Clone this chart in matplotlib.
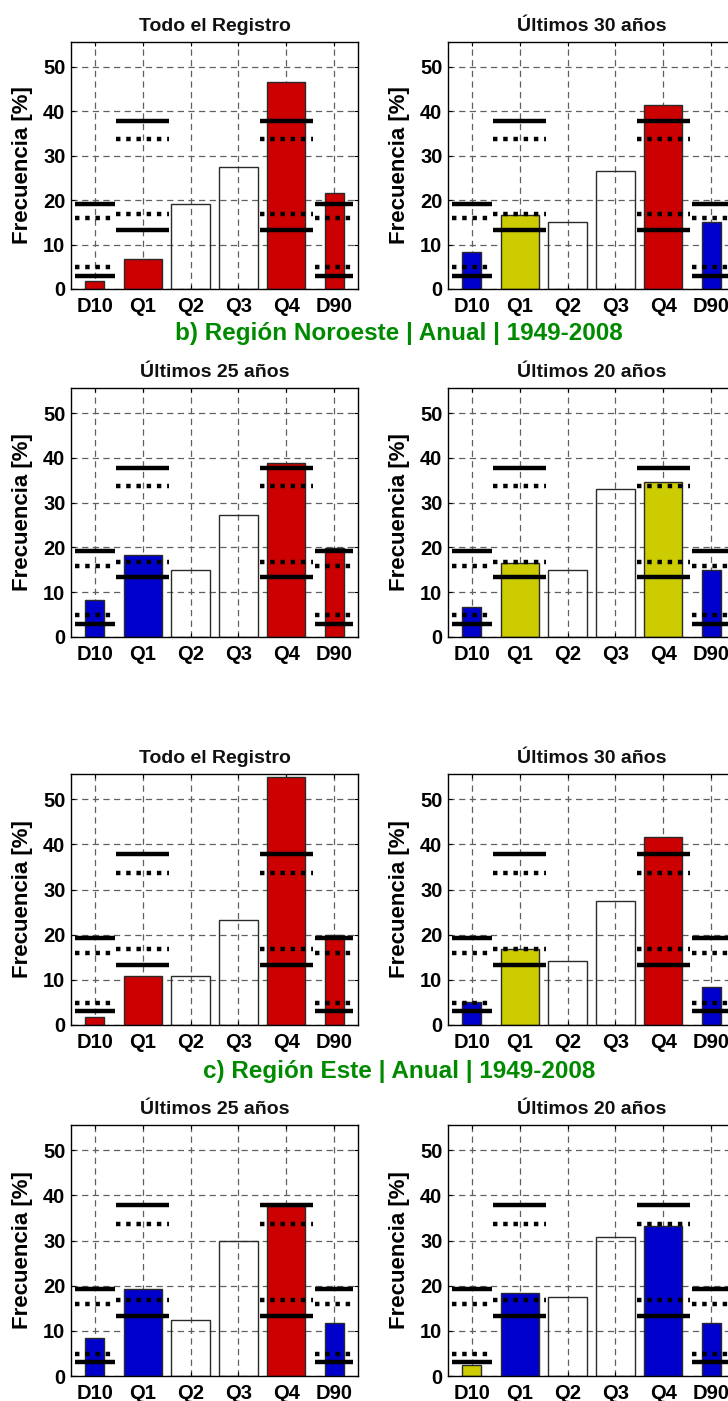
import matplotlib
matplotlib.use("Agg")
import matplotlib.pyplot as plt

plt.rcParams['font.family'] = ['Liberation Sans', 'DejaVu Sans']
plt.rcParams['font.weight'] = 'bold'

# categories and x positions
cats = ["D10", "Q1", "Q2", "Q3", "Q4", "D90"]
xpos = [1, 2, 3, 4, 5, 6]
bar_w = [0.4, 0.8, 0.8, 0.8, 0.8, 0.4]

# panel titles
titles = ["Todo el Registro", "Últimos 30 años", "Últimos 25 años", "Últimos 20 años",
          "Todo el Registro", "Últimos 30 años", "Últimos 25 años", "Últimos 20 años"]

# bar values (frequency %) per panel
vals = [
    [1.7, 6.7, 19.2, 27.5, 46.6, 21.7],   # NO todo
    [8.3, 16.7, 15.0, 26.6, 41.5, 15.0],  # NO 30
    [8.3, 18.2, 14.9, 27.3, 38.9, 19.9],  # NO 25
    [6.7, 16.6, 14.9, 33.0, 34.7, 14.9],  # NO 20
    [1.8, 10.9, 10.9, 23.3, 54.9, 19.9],  # E todo
    [5.2, 16.8, 14.2, 27.4, 41.7, 8.5],   # E 30
    [8.4, 19.2, 12.5, 30.0, 37.6, 11.8],  # E 25
    [2.4, 18.4, 17.6, 30.7, 33.3, 11.8],  # E 20
]

# bar colour codes: r = red, b = blue, y = yellow, w = white
ccodes = [
    "rrwwrr",
    "bywwrb",
    "bbwwrr",
    "bywwyb",
    "rrwwrr",
    "bywwrb",
    "bbwwrb",
    "ybwwbb",
]
colmap = {"r": "#cc0000", "b": "#0000cc", "y": "#cccc00", "w": "none"}

# reference levels (same in every panel)
ref_pos = [1, 2, 5, 6]
ref_half = [0.42, 0.55, 0.55, 0.4]
solid_dec = [19.2, 3.0]
dotted_dec = [15.9, 4.9]
solid_q = [37.8, 13.3]
dotted_q = [33.7, 16.8]

suptitles = ["b) Región Noroeste | Anual | 1949-2008", "c) Región Este | Anual | 1949-2008"]

W, H = 728, 1401
fig = plt.figure(figsize=(W / 100, H / 100), dpi=100)

col_left = [71, 448]
ax_w = 287
rows = [(42, 289), (388, 637), (774, 1025), (1125, 1376)]

for i in range(8):
    r, c = divmod(i, 2)
    top, bot = rows[r]
    ax = fig.add_axes([col_left[c] / W, 1 - bot / H, ax_w / W, (bot - top) / H])
    ax.set_axisbelow(True)
    ax.grid(True, color="#606060", linestyle=(0, (5, 3.5)), linewidth=0.9)
    for x, v, w, cc in zip(xpos, vals[i], bar_w, ccodes[i]):
        ax.bar(x, v, width=w, color=colmap[cc], edgecolor="#2a2a2a", linewidth=1.0, zorder=2)
    for x, hw in zip(ref_pos, ref_half):
        if x in (1, 6):
            s, d = solid_dec, dotted_dec
        else:
            s, d = solid_q, dotted_q
        for yv in s:
            ax.plot([x - hw, x + hw], [yv, yv], color="black", lw=3.2, solid_capstyle="butt", zorder=3)
        for yv in d:
            ax.plot([x - hw, x + hw], [yv, yv], color="black", lw=3.2,
                    linestyle=(0, (1, 1.3)), dash_capstyle="butt", zorder=3)
    ax.set_xlim(0.5, 6.5)
    ax.set_ylim(0, 55.6)
    ax.set_xticks(xpos)
    ax.set_xticklabels(cats)
    ax.set_yticks([0, 10, 20, 30, 40, 50])
    ax.tick_params(direction="in", length=3, top=True, right=True, labelsize=14.5, pad=4)
    ax.tick_params(axis="x", pad=6)
    for lab in ax.get_xticklabels() + ax.get_yticklabels():
        lab.set_fontweight("bold")
    ax.set_title(titles[i], fontsize=14, fontweight="bold", pad=8, color="#111111")
    ax.set_ylabel("Frecuencia [%]", fontsize=16, fontweight="bold")
    ax.yaxis.set_label_coords(-0.168, 0.5)
    ax.yaxis.label.set_verticalalignment("center")
    for sp in ax.spines.values():
        sp.set_linewidth(1.0)

fig.text(399 / W, 1 - 340 / H, suptitles[0], color="#008a00", fontsize=17.5,
         fontweight="bold", ha="center", va="baseline")
fig.text(399 / W, 1 - 1078 / H, suptitles[1], color="#008a00", fontsize=17.5,
         fontweight="bold", ha="center", va="baseline")

fig.savefig("out.png", dpi=100)
